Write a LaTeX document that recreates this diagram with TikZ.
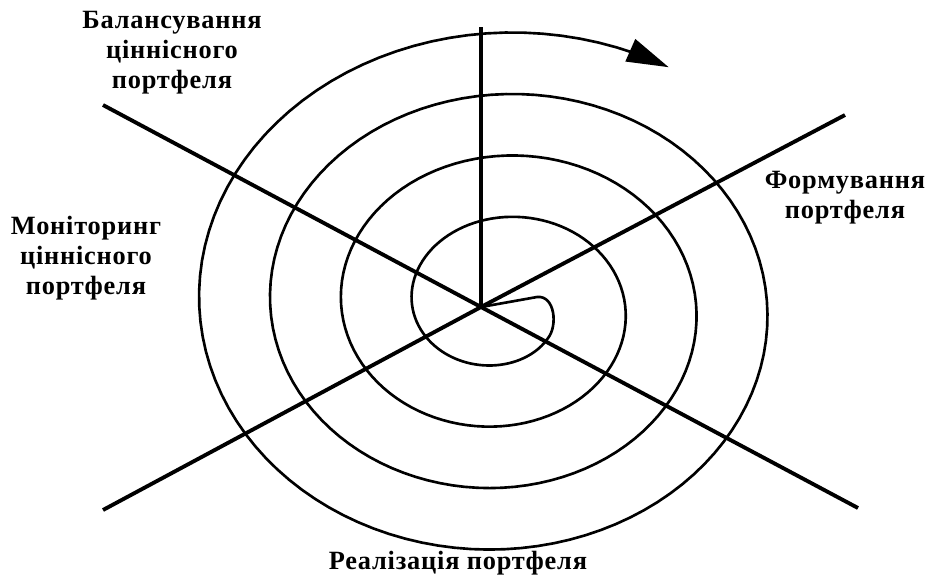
\documentclass[tikz,border=0pt]{standalone}
\usepackage{fontspec}
\setmainfont{Liberation Serif}
\usetikzlibrary{arrows.meta}

\begin{document}
\begin{tikzpicture}[x=0.02cm,y=-0.02cm,
  >={Triangle[length=0.84cm,width=0.48cm]},
  ray/.style={line width=2.2pt},
  spiral/.style={line width=1.5pt},
  lbl/.style={align=center,inner sep=0pt,
    font=\fontsize{15pt}{17pt}\selectfont\bfseries\addfontfeature{LetterSpace=3}}]
  \useasboundingbox (0,0) rectangle (925,579);
  % centre and the ends of the rays
  \coordinate (O) at (481,307);
  \coordinate (up) at (481,27);
  \coordinate (nw) at (103,105);
  \coordinate (se) at (858,508);
  \coordinate (sw) at (103,510);
  \coordinate (ne) at (845,115);
  \coordinate (s0) at (547.8,338.4);
  \draw[ray] (nw) -- (O) -- (se);
  \draw[ray] (sw) -- (O) -- (ne);
  \draw[line width=1.9pt] (O) -- (up);
  % spiral
  \draw[spiral,line join=round,->] (O) -- (537,297) .. controls (555,295) and (558,326) .. (s0)
    -- plot[domain=40:1381,samples=400,variable=\t]
    ({501+(53.25+0.19722*\t)*cos(\t)},{306.4+(42.9+0.171*\t)*sin(\t)});
  % labels
  \node[lbl] (bal) at (172,53) {Балансування\\ціннісного\\портфеля};
  \node[lbl] (mon) at (86,258) {Моніторинг\\ціннісного\\портфеля};
  \node[lbl] (form) at (845,198) {Формування\\портфеля};
  \node[lbl] (real) at (458,563) {Реалізація портфеля};
\end{tikzpicture}
\end{document}
